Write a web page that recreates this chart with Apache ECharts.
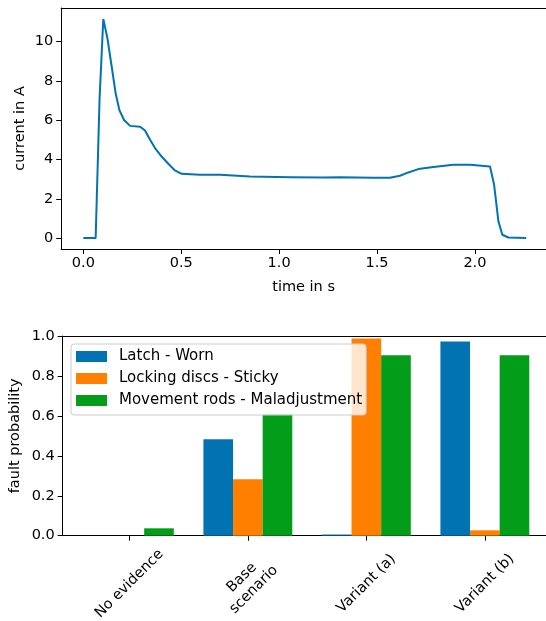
<!DOCTYPE html>
<html><head><meta charset="utf-8">
<script src="https://cdn.jsdelivr.net/npm/echarts@6/dist/echarts.min.js"></script>
<style>html,body{margin:0;padding:0;background:#fff}#c{width:546px;height:621px}</style>
</head><body><div id="c"></div>
<script>
// ---- data: current trace ----
const timeS = [0, 0.063, 0.083, 0.102, 0.123, 0.145, 0.165, 0.184, 0.208, 0.239, 0.29, 0.315, 0.341, 0.366, 0.4, 0.434, 0.468, 0.502, 0.596, 0.698, 0.851, 1.056, 1.226, 1.311, 1.481, 1.566, 1.617, 1.66, 1.711, 1.788, 1.89, 1.975, 2.077, 2.098, 2.12, 2.14, 2.171, 2.262];
const currentA = [0, 0, 7.1, 11.15, 10.17, 8.72, 7.37, 6.52, 6.01, 5.71, 5.67, 5.47, 5.0, 4.58, 4.15, 3.78, 3.44, 3.27, 3.22, 3.22, 3.13, 3.1, 3.08, 3.09, 3.07, 3.07, 3.17, 3.34, 3.51, 3.62, 3.73, 3.73, 3.64, 2.71, 0.85, 0.17, 0.03, 0];
const timeTicks = [0, 0.5, 1.0, 1.5, 2.0];
const currentTicks = [0, 2, 4, 6, 8, 10];

// ---- data: fault probabilities ----
const categories = ['No evidence', 'Base\nscenario', 'Variant (a)', 'Variant (b)'];
const seriesNames = ['Latch - Worn', 'Locking discs - Sticky', 'Movement rods - Maladjustment'];
const latchWorn = [0, 0.483, 0.006, 0.973];
const lockingSticky = [0, 0.283, 0.988, 0.027];
const rodsMaladjustment = [0.037, 0.61, 0.903, 0.903];
const probTicks = [0, 0.2, 0.4, 0.6, 0.8, 1.0];

const FONT = 'DejaVu Sans';
const FS = 14.5;
const colors = ['#0173B2', '#FF7F00', '#029E1A'];

const chart = echarts.init(document.getElementById('c'), null, {renderer: 'canvas'});
const axisText = {color: '#000', fontFamily: FONT, fontSize: FS};
const lineStyle = {color: '#000', width: 1};

function toPairs(xs, ys) { return xs.map((x, i) => [x, ys[i]]); }

const catIdx = categories.map((c, i) => i);

function spineAxis(gridIndex, min, max) {
  return {type: 'value', gridIndex: gridIndex, position: 'top', min: min, max: max,
    axisLine: {show: true, onZero: false, lineStyle: lineStyle},
    axisTick: {show: false}, axisLabel: {show: false}, splitLine: {show: false}};
}

const topMin = -0.113, topMax = 2.363;
const botMin = -0.5625, botMax = 3.516;

const option = {
  animation: false,
  textStyle: {fontFamily: FONT},
  grid: [
    {left: 61.2, top: 8, right: 0, height: 241, show: false, outerBoundsMode: 'none', containLabel: false},
    {left: 62.7, top: 336, right: 0, height: 199.7, show: false, outerBoundsMode: 'none', containLabel: false}
  ],
  xAxis: [
    {type: 'value', gridIndex: 0, min: topMin, max: topMax,
     name: 'time in s', nameLocation: 'middle', nameGap: 31, nameMoveOverlap: false, nameTextStyle: axisText,
     axisLine: {show: true, onZero: false, lineStyle: lineStyle},
     axisTick: {show: true, length: 5, lineStyle: lineStyle, customValues: timeTicks},
     axisLabel: Object.assign({margin: 7, customValues: timeTicks, formatter: v => v.toFixed(1)}, axisText),
     splitLine: {show: false}},
    {type: 'value', gridIndex: 1, min: botMin, max: botMax,
     axisLine: {show: true, onZero: false, lineStyle: lineStyle},
     axisTick: {show: true, length: 5, lineStyle: lineStyle, customValues: catIdx},
     axisLabel: Object.assign({customValues: catIdx, formatter: v => categories[Math.round(v)],
       rotate: 45, align: 'center', verticalAlign: 'middle', margin: 48, lineHeight: 17}, axisText),
     splitLine: {show: false}},
    spineAxis(0, topMin, topMax),
    spineAxis(1, botMin, botMax)
  ],
  yAxis: [
    {type: 'value', gridIndex: 0, min: -0.557, max: 11.71,
     name: 'current in A', nameLocation: 'middle', nameGap: 33, nameMoveOverlap: false, nameTextStyle: axisText,
     axisLine: {show: true, onZero: false, lineStyle: lineStyle},
     axisTick: {show: true, length: 5, lineStyle: lineStyle, customValues: currentTicks},
     axisLabel: Object.assign({margin: 8, customValues: currentTicks, formatter: v => String(v)}, axisText),
     splitLine: {show: false}},
    {type: 'value', gridIndex: 1, min: 0, max: 1,
     name: 'fault probability', nameLocation: 'middle', nameGap: 40, nameMoveOverlap: false, nameTextStyle: axisText,
     axisLine: {show: true, onZero: false, lineStyle: lineStyle},
     axisTick: {show: true, length: 5, lineStyle: lineStyle, customValues: probTicks},
     axisLabel: Object.assign({margin: 8, customValues: probTicks, formatter: v => v.toFixed(1)}, axisText),
     splitLine: {show: false}}
  ],
  legend: {
    show: true, orient: 'vertical', left: 71, top: 344,
    data: seriesNames,
    icon: 'rect', itemWidth: 31, itemHeight: 11, itemGap: 5,
    padding: [4, 4, 6, 5],
    backgroundColor: 'rgba(255,255,255,0.8)', borderColor: '#cccccc', borderWidth: 1, borderRadius: 3,
    textStyle: {color: '#000', fontFamily: FONT, fontSize: 15, lineHeight: 17, padding: [0, 0, 0, 7]}
  },
  series: [
    {type: 'line', xAxisIndex: 0, yAxisIndex: 0, data: toPairs(timeS, currentA),
     showSymbol: false, symbol: 'none', lineStyle: {color: colors[0], width: 2}, itemStyle: {color: colors[0]}},
    {type: 'bar', name: seriesNames[0], xAxisIndex: 1, yAxisIndex: 1, data: toPairs(catIdx, latchWorn),
     itemStyle: {color: colors[0]}, barGap: '0%', barCategoryGap: '25%'},
    {type: 'bar', name: seriesNames[1], xAxisIndex: 1, yAxisIndex: 1, data: toPairs(catIdx, lockingSticky),
     itemStyle: {color: colors[1]}, barGap: '0%', barCategoryGap: '25%'},
    {type: 'bar', name: seriesNames[2], xAxisIndex: 1, yAxisIndex: 1, data: toPairs(catIdx, rodsMaladjustment),
     itemStyle: {color: colors[2]}, barGap: '0%', barCategoryGap: '25%'}
  ]
};
chart.setOption(option);
</script>
</body></html>
